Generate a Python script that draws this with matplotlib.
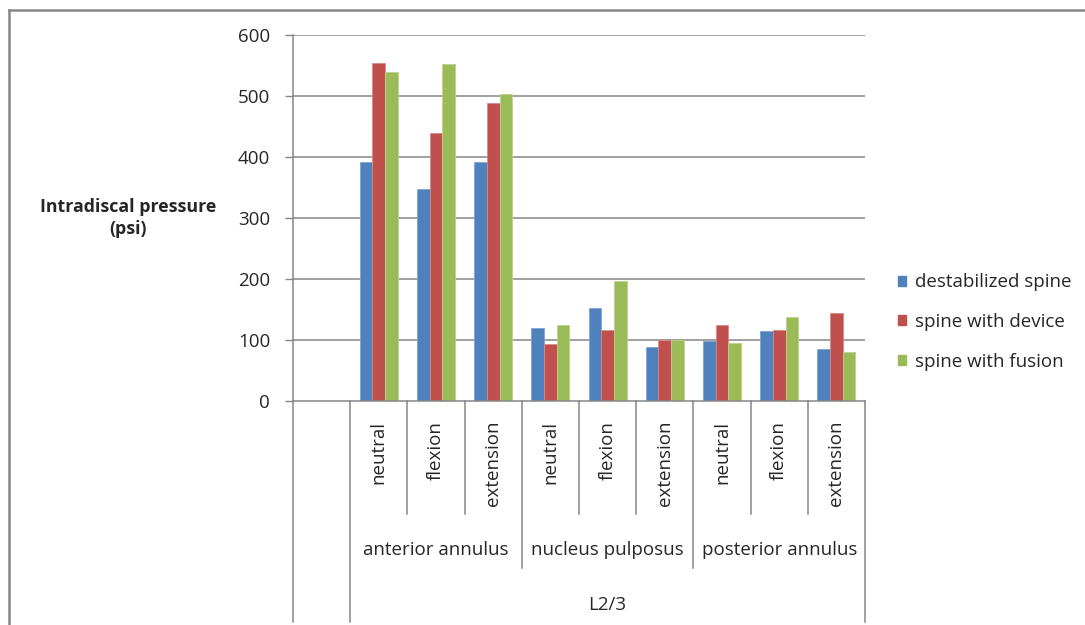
import matplotlib
matplotlib.use("Agg")
import matplotlib.pyplot as plt
from matplotlib.lines import Line2D
from matplotlib.patches import Patch
import numpy as np

plt.rcParams['font.family'] = ['Open Sans', 'DejaVu Sans']

positions = ["neutral", "flexion", "extension"] * 3
regions = ["anterior annulus", "nucleus pulposus", "posterior annulus"]
level = "L2/3"
series_names = ["destabilized spine", "spine with device", "spine with fusion"]
destabilized = [392, 347, 392, 119, 152, 88, 99, 114, 85]
with_device = [554, 440, 489, 94, 116, 100, 124, 116, 145]
with_fusion = [540, 553, 504, 125, 197, 100, 95, 138, 81]
y_ticks = [0, 100, 200, 300, 400, 500, 600]

colors = ["#4F81BD", "#C0504D", "#9BBB59"]
edges = ["#7FA3D3", "#D98886", "#BBD38A"]
grid_c = "#868686"
text_c = "#262626"
fs = 13.5

W, H = 1085, 625
fig = plt.figure(figsize=(W / 100, H / 100), dpi=100)

# outer chart frame (top and left edges)
fig.add_artist(Line2D([9 / W, 1.0], [1 - 10 / H, 1 - 10 / H], transform=fig.transFigure,
                      color=grid_c, lw=1.8))
fig.add_artist(Line2D([9 / W, 9 / W], [0, 1 - 10 / H], transform=fig.transFigure,
                      color=grid_c, lw=1.8))

ax = fig.add_axes([293 / W, 1 - 401 / H, 572 / W, 366 / H])

n = len(positions)
x = np.arange(1, n + 1)
bw = 1 / 4.5
for i, (vals, c, ec) in enumerate(zip([destabilized, with_device, with_fusion], colors, edges)):
    ax.bar(x + (i - 1) * bw, vals, width=bw, color=c, edgecolor=ec, linewidth=0.6,
           zorder=3, label=series_names[i])

ax.set_xlim(-0.5, n + 0.5)
ax.set_ylim(0, 600)
ax.set_yticks(y_ticks)
ax.set_yticklabels([str(v) for v in y_ticks], fontsize=fs, color=text_c)
ax.tick_params(axis='y', length=6, width=1, color=grid_c, pad=10.5)
ax.set_xticks([])
for v in y_ticks[1:]:
    ax.axhline(v, color=grid_c, lw=1.1, zorder=1)
for s in ["top", "right", "bottom"]:
    ax.spines[s].set_visible(False)
ax.spines["left"].set_color(grid_c)
ax.spines["left"].set_linewidth(1.1)
ax.axhline(0, color=grid_c, lw=1.1, zorder=4, clip_on=False)

# multi-level category axis
tr = ax.get_xaxis_transform()
ph = 366.0
y_inner = -113 / ph
y_group = -167 / ph
y_outer = -221 / ph
bounds = np.arange(-0.5, n + 1.0, 1.0)
for b in bounds:
    idx = int(round(b + 0.5))
    if idx in (0, 1, n + 1):
        yb = y_outer
    elif (idx - 1) % 3 == 0:
        yb = y_group
    else:
        yb = y_inner
    ax.plot([b, b], [0, yb], transform=tr, color=grid_c, lw=1.1, clip_on=False)

for xi, lab in zip(x, positions):
    ax.text(xi, -20 / ph, lab, transform=tr, rotation=90, ha='center', va='top',
            fontsize=fs, color=text_c)
for gi, reg in enumerate(regions):
    ax.text(2 + 3 * gi, -149 / ph, reg, transform=tr, ha='center', va='center',
            fontsize=fs, color=text_c)
ax.text((1 + n) / 2, -204 / ph, level, transform=tr, ha='center', va='center',
        fontsize=fs, color=text_c)

fig.text(128 / W, 1 - 218 / H, "Intradiscal pressure\n(psi)", ha='center', va='center',
         fontsize=12.8, fontweight='bold', color=text_c, linespacing=1.35)

handles = [Patch(facecolor=c, edgecolor=c) for c in colors]
fig.legend(handles, series_names, loc='center left', bbox_to_anchor=(890.5 / W, 1 - 322 / H),
           frameon=False, fontsize=fs, labelcolor=text_c, handlelength=0.45, handleheight=0.45,
           handletextpad=0.46, labelspacing=1.16, borderaxespad=0)

fig.savefig("out.png", dpi=100)
